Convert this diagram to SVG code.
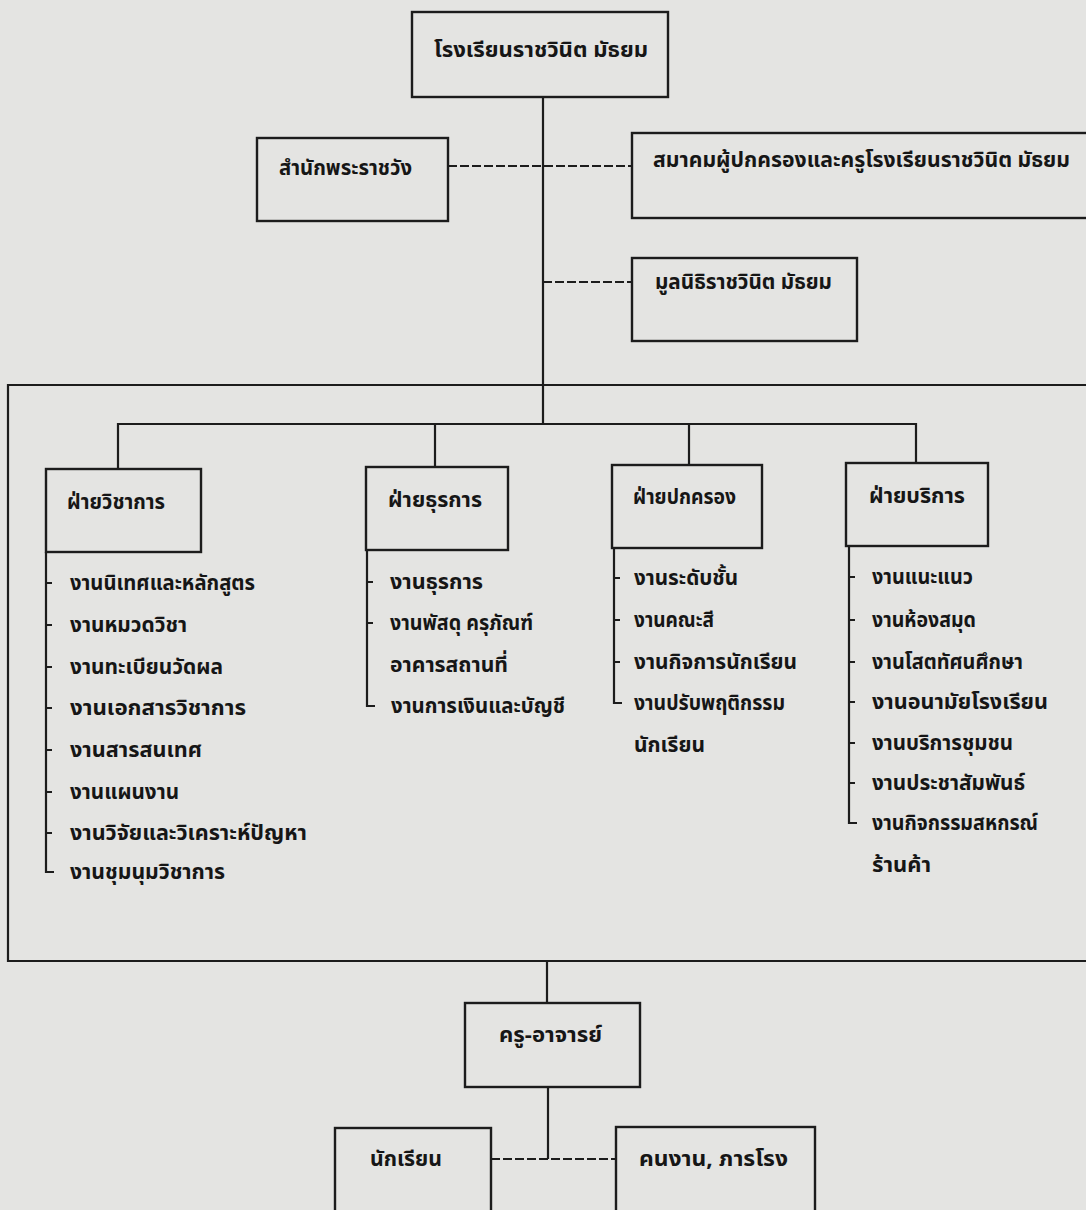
<svg xmlns="http://www.w3.org/2000/svg" width="1086" height="1210" viewBox="0 0 1086 1210">
<style>
.bg{fill:#e4e4e2}
.box{fill:none;stroke:#1c1c1c;stroke-width:2.4}
.ln{fill:none;stroke:#1c1c1c;stroke-width:2.2}
.dash{fill:none;stroke:#1c1c1c;stroke-width:2.2;stroke-dasharray:9 3}
text{font-family:"Noto Sans Thai","Noto Sans","DejaVu Sans",sans-serif;font-size:21px;font-weight:bold;fill:#161616}
</style>
<rect class="bg" x="0" y="0" width="1086" height="1210"/>

<g id="connectors">
  <line class="ln" x1="543" y1="97" x2="543" y2="424"/>
  <line class="dash" x1="448" y1="166" x2="632" y2="166"/>
  <line class="dash" x1="543" y1="282" x2="632" y2="282"/>
  <path class="ln" d="M1095,385 H8 V961 H1095"/>
  <path class="ln" d="M118,469 V424 H916 V463"/>
  <line class="ln" x1="435" y1="424" x2="435" y2="467"/>
  <line class="ln" x1="689" y1="424" x2="689" y2="465"/>
  <line class="ln" x1="547" y1="961" x2="547" y2="1003"/>
  <line class="ln" x1="548" y1="1087" x2="548" y2="1159"/>
  <line class="dash" x1="491" y1="1159" x2="616" y2="1159"/>
</g>

<g id="n-school">
  <rect class="box" x="412" y="12" width="256" height="85"/>
  <text x="434" y="57" textLength="214" lengthAdjust="spacingAndGlyphs">โรงเรียนราชวินิต มัธยม</text>
</g>
<g id="n-palace">
  <rect class="box" x="257" y="138" width="191" height="83"/>
  <text x="279" y="175" textLength="133" lengthAdjust="spacingAndGlyphs">สำนักพระราชวัง</text>
</g>
<g id="n-association">
  <rect class="box" x="632" y="133" width="470" height="85"/>
  <text x="653" y="167" textLength="417" lengthAdjust="spacingAndGlyphs">สมาคมผู้ปกครองและครูโรงเรียนราชวินิต มัธยม</text>
</g>
<g id="n-foundation">
  <rect class="box" x="632" y="258" width="225" height="83"/>
  <text x="655" y="289" textLength="177" lengthAdjust="spacingAndGlyphs">มูลนิธิราชวินิต มัธยม</text>
</g>

<g id="n-academic">
  <rect class="box" x="46" y="469" width="155" height="83"/>
  <text x="67" y="509" textLength="98" lengthAdjust="spacingAndGlyphs">ฝ่ายวิชาการ</text>
  <path class="ln" d="M46,552 V872 H54 M46,583 H52 M46,625 H52 M46,667 H52 M46,708 H52 M46,750 H52 M46,792 H52 M46,833 H52"/>
  <text x="70" y="590" textLength="185" lengthAdjust="spacingAndGlyphs">งานนิเทศและหลักสูตร</text>
  <text x="70" y="632" textLength="117" lengthAdjust="spacingAndGlyphs">งานหมวดวิชา</text>
  <text x="70" y="674" textLength="153" lengthAdjust="spacingAndGlyphs">งานทะเบียนวัดผล</text>
  <text x="70" y="715" textLength="176" lengthAdjust="spacingAndGlyphs">งานเอกสารวิชาการ</text>
  <text x="70" y="757" textLength="132" lengthAdjust="spacingAndGlyphs">งานสารสนเทศ</text>
  <text x="70" y="799" textLength="109" lengthAdjust="spacingAndGlyphs">งานแผนงาน</text>
  <text x="70" y="840" textLength="237" lengthAdjust="spacingAndGlyphs">งานวิจัยและวิเคราะห์ปัญหา</text>
  <text x="70" y="879" textLength="155" lengthAdjust="spacingAndGlyphs">งานชุมนุมวิชาการ</text>
</g>

<g id="n-business">
  <rect class="box" x="366" y="467" width="142" height="83"/>
  <text x="388" y="507" textLength="94" lengthAdjust="spacingAndGlyphs">ฝ่ายธุรการ</text>
  <path class="ln" d="M367,550 V706 H375 M367,582 H373 M367,623 H373"/>
  <text x="390" y="589" textLength="93" lengthAdjust="spacingAndGlyphs">งานธุรการ</text>
  <text x="390" y="630" textLength="143" lengthAdjust="spacingAndGlyphs">งานพัสดุ ครุภัณฑ์</text>
  <text x="390" y="672" textLength="118" lengthAdjust="spacingAndGlyphs">อาคารสถานที่</text>
  <text x="391" y="713" textLength="174" lengthAdjust="spacingAndGlyphs">งานการเงินและบัญชี</text>
</g>

<g id="n-governance">
  <rect class="box" x="612" y="465" width="150" height="83"/>
  <text x="633" y="504" textLength="103" lengthAdjust="spacingAndGlyphs">ฝ่ายปกครอง</text>
  <path class="ln" d="M614,548 V703 H622 M614,578 H620 M614,620 H620 M614,662 H620"/>
  <text x="634" y="585" textLength="104" lengthAdjust="spacingAndGlyphs">งานระดับชั้น</text>
  <text x="634" y="627" textLength="80" lengthAdjust="spacingAndGlyphs">งานคณะสี</text>
  <text x="634" y="669" textLength="163" lengthAdjust="spacingAndGlyphs">งานกิจการนักเรียน</text>
  <text x="634" y="710" textLength="151" lengthAdjust="spacingAndGlyphs">งานปรับพฤติกรรม</text>
  <text x="634" y="752" textLength="71" lengthAdjust="spacingAndGlyphs">นักเรียน</text>
</g>

<g id="n-service">
  <rect class="box" x="846" y="463" width="142" height="83"/>
  <text x="869" y="503" textLength="96" lengthAdjust="spacingAndGlyphs">ฝ่ายบริการ</text>
  <path class="ln" d="M849,546 V823 H857 M849,577 H855 M849,620 H855 M849,662 H855 M849,702 H855 M849,743 H855 M849,783 H855"/>
  <text x="872" y="584" textLength="101" lengthAdjust="spacingAndGlyphs">งานแนะแนว</text>
  <text x="872" y="627" textLength="104" lengthAdjust="spacingAndGlyphs">งานห้องสมุด</text>
  <text x="872" y="669" textLength="151" lengthAdjust="spacingAndGlyphs">งานโสตทัศนศึกษา</text>
  <text x="872" y="709" textLength="176" lengthAdjust="spacingAndGlyphs">งานอนามัยโรงเรียน</text>
  <text x="872" y="750" textLength="141" lengthAdjust="spacingAndGlyphs">งานบริการชุมชน</text>
  <text x="872" y="790" textLength="153" lengthAdjust="spacingAndGlyphs">งานประชาสัมพันธ์</text>
  <text x="872" y="830" textLength="166" lengthAdjust="spacingAndGlyphs">งานกิจกรรมสหกรณ์</text>
  <text x="872" y="872" textLength="59" lengthAdjust="spacingAndGlyphs">ร้านค้า</text>
</g>

<g id="n-teachers">
  <rect class="box" x="465" y="1003" width="175" height="84"/>
  <text x="499" y="1042" textLength="103" lengthAdjust="spacingAndGlyphs">ครู-อาจารย์</text>
</g>
<g id="n-students">
  <rect class="box" x="335" y="1128" width="156" height="90"/>
  <text x="370" y="1166" textLength="72" lengthAdjust="spacingAndGlyphs">นักเรียน</text>
</g>
<g id="n-staff">
  <rect class="box" x="616" y="1127" width="199" height="91"/>
  <text x="639" y="1166" textLength="149" lengthAdjust="spacingAndGlyphs">คนงาน, ภารโรง</text>
</g>
</svg>
